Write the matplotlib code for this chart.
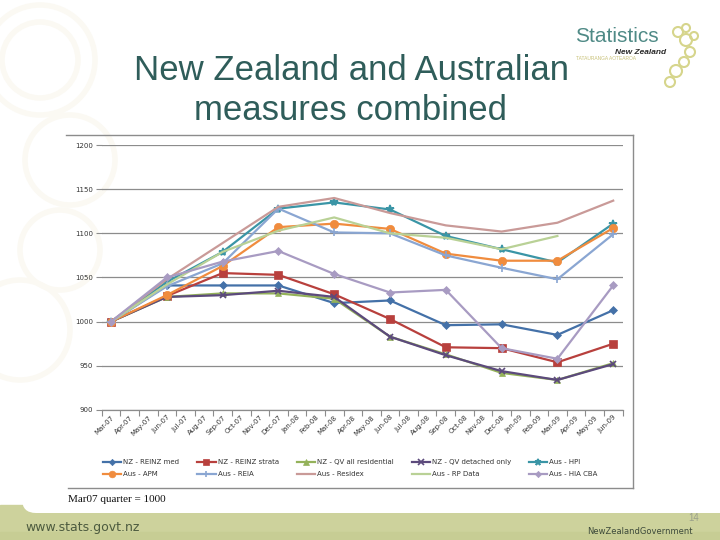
import matplotlib
matplotlib.use("Agg")
import matplotlib.pyplot as plt
from matplotlib.patches import FancyBboxPatch, Rectangle, Circle
import numpy as np

# ---------------- data ----------------
months = ["Mar-07", "Apr-07", "May-07", "Jun-07", "Jul-07", "Aug-07", "Sep-07", "Oct-07",
          "Nov-07", "Dec-07", "Jan-08", "Feb-08", "Mar-08", "Apr-08", "May-08", "Jun-08",
          "Jul-08", "Aug-08", "Sep-08", "Oct-08", "Nov-08", "Dec-08", "Jan-09", "Feb-09",
          "Mar-09", "Apr-09", "May-09", "Jun-09"]
quarters = ["Mar-07", "Jun-07", "Sep-07", "Dec-07", "Mar-08", "Jun-08", "Sep-08", "Dec-08",
            "Mar-09", "Jun-09"]

nz_reinz_med    = [1000, 1041, 1041, 1041, 1021, 1024, 996, 997, 985, 1013]
nz_reinz_strata = [1000, 1029, 1055, 1053, 1031, 1003, 971, 970, 954, 975]
nz_qv_all       = [1000, 1028, 1032, 1032, 1026, 983, 963, 942, 934, 953]
nz_qv_detached  = [1000, 1028, 1030, 1035, 1028, 983, 962, 944, 934, 952]
aus_hpi         = [1000, 1045, 1079, 1128, 1135, 1127, 1097, 1082, 1067, 1111]
aus_apm         = [1000, 1030, 1063, 1107, 1111, 1105, 1077, 1069, 1069, 1106]
aus_reia        = [1000, 1040, 1066, 1128, 1101, 1100, 1075, 1061, 1048, 1099]
aus_residex     = [1000, 1048, 1089, 1130, 1140, 1123, 1109, 1102, 1112, 1137]
aus_rpdata      = [1000, 1042, 1079, 1103, 1118, 1100, 1095, 1082, 1097, None]
aus_hia_cba     = [1000, 1050, 1068, 1080, 1054, 1033, 1036, 970, 958, 1041]

series_names = ["NZ - REINZ med", "NZ - REINZ strata", "NZ - QV all residential",
                "NZ - QV detached only", "Aus - HPI", "Aus - APM", "Aus - REIA",
                "Aus - Residex", "Aus - RP Data", "Aus - HIA CBA"]
series_values = [nz_reinz_med, nz_reinz_strata, nz_qv_all, nz_qv_detached, aus_hpi,
                 aus_apm, aus_reia, aus_residex, aus_rpdata, aus_hia_cba]
y_ticks = [900, 950, 1000, 1050, 1100, 1150, 1200]

# ---------------- styles ----------------
colors = ["#4471a8", "#b8403d", "#94b25a", "#5c4a7c", "#3a95a6",
          "#f08c3e", "#8aa6d2", "#c99a98", "#b9d196", "#a89bc2"]
markers = ["D", "s", "^", "x", "*", "o", "+", None, None, "D"]
msizes = [4, 6, 5, 5, 6, 6, 6, 0, 0, 4]

W, H = 720, 540
fig = plt.figure(figsize=(7.2, 5.4), dpi=100)
fig.patch.set_facecolor("white")

def fx(x):
    return x / W

def fy(y):
    return 1 - y / H

# background slide decorations
bg = fig.add_axes([0, 0, 1, 1], zorder=-10)
bg.set_xlim(0, W)
bg.set_ylim(H, 0)
bg.axis("off")
bg.add_patch(Rectangle((0, 505), W, 35, color="#cdd29c", zorder=0))
bg.add_patch(Rectangle((0, 532), W, 8, color="#c7cd94", zorder=0))
bg.add_patch(FancyBboxPatch((22, -30), 780, 543, boxstyle="round,pad=0,rounding_size=14",
                            facecolor="white", edgecolor="none", zorder=1))
for (cx, cy, r) in [(40, 60, 55), (40, 60, 38), (70, 160, 45), (60, 250, 40), (20, 330, 50)]:
    bg.add_patch(Circle((cx, cy), r, fill=False, edgecolor="#fbf9f3", lw=4, zorder=2))
# chart frame (top, right, bottom)
bg.plot([66, 633], [135, 135], color="#8c8c8c", lw=1.0, zorder=3)
bg.plot([633, 633], [135, 488], color="#8c8c8c", lw=1.0, zorder=3)
bg.plot([68, 633], [488, 488], color="#8c8c8c", lw=1.0, zorder=3)

# logo
for (cx, cy, r) in [(678, 32, 5), (686, 40, 6), (690, 52, 5), (684, 62, 5), (676, 71, 6),
                    (670, 82, 5), (686, 28, 4), (694, 36, 4)]:
    bg.add_patch(Circle((cx, cy), r, fill=False, edgecolor="#d6d58c", lw=1.5, zorder=3))
fig.text(fx(575), fy(36), "Statistics", fontsize=15, color="#4f8a86",
         family="Liberation Sans", va="center", ha="left")
fig.text(fx(666), fy(52), "New Zealand", fontsize=6, color="#2a2a2a", style="italic",
         weight="bold", family="Liberation Sans", va="center", ha="right")
fig.text(fx(576), fy(59), "TATAURANGA AOTEAROA", fontsize=3.5, color="#c9c27a",
         family="Liberation Sans", va="center", ha="left")

# title
fig.text(fx(351), fy(70), "New Zealand and Australian", fontsize=25, color="#2f5d5a",
         family="Liberation Sans", ha="center", va="center")
fig.text(fx(351), fy(110), "measures combined", fontsize=25, color="#2f5d5a",
         family="Liberation Sans", ha="center", va="center")

# footer
fig.text(fx(25), fy(527), "www.stats.govt.nz", fontsize=9, color="#4d5b3f",
         family="Liberation Sans Narrow", ha="left", va="center")
fig.text(fx(693), fy(531), "NewZealandGovernment", fontsize=6, color="#3d4a3a",
         family="Liberation Sans Narrow", ha="right", va="center")
fig.text(fx(699), fy(518), "14", fontsize=7, color="#9aa08a",
         family="Liberation Sans", ha="right", va="center")
fig.text(fx(68), fy(499), "Mar07 quarter = 1000", fontsize=8, color="#111111",
         family="Liberation Serif", ha="left", va="center")

# ---------------- main plot ----------------
x0, s = 111.0, 18.6
left_px = x0 - 0.5 * s
right_px = x0 + 27.5 * s
top_px, bot_px = 145.0, 410.0
ax = fig.add_axes([fx(left_px), fy(bot_px), (right_px - left_px) / W, (bot_px - top_px) / H])
ax.set_xlim(-0.5, 27.5)
ax.set_ylim(900, 1200)
ax.set_facecolor("none")
for sp in ["top", "right", "left"]:
    ax.spines[sp].set_visible(False)
ax.spines["bottom"].set_color("#8c8c8c")
ax.spines["bottom"].set_linewidth(0.9)
ax.set_yticks(y_ticks)
ax.set_yticklabels([str(v) for v in y_ticks], fontsize=5, color="#333333")
ax.tick_params(axis="y", length=4, color="#8c8c8c", width=0.8, pad=2)
ax.grid(axis="y", color="#8c8c8c", lw=0.9)
ax.set_axisbelow(True)
ax.set_xticks(range(len(months)))
ax.set_xticklabels(months, rotation=45, ha="right", rotation_mode="anchor",
                   fontsize=5, color="#333333")
ax.tick_params(axis="x", length=0, pad=3)
ax.set_xticks(np.arange(-0.5, 27.6, 1.0), minor=True)
ax.tick_params(axis="x", which="minor", length=4, color="#8c8c8c", width=0.8)

q_idx = [months.index(q) for q in quarters]
handles = []
for name, vals, c, m, ms in zip(series_names, series_values, colors, markers, msizes):
    xs = [q_idx[i] for i, v in enumerate(vals) if v is not None]
    ys = [v for v in vals if v is not None]
    mew = 1.2 if m in ("x", "+", "*") else 0.5
    ln, = ax.plot(xs, ys, color=c, lw=1.6, marker=m if m else "", markersize=ms,
                  markeredgecolor=c, markerfacecolor=c, markeredgewidth=mew,
                  label=name, zorder=3)
    handles.append(ln)

# legend laid out row-wise (5 per row)
order = [0, 5, 1, 6, 2, 7, 3, 8, 4, 9]
leg = fig.legend(handles=[handles[i] for i in order],
                 labels=[series_names[i] for i in order], ncol=5,
                 loc="upper left", bbox_to_anchor=(fx(97), fy(453)),
                 fontsize=5, frameon=False, handlelength=2.6, handletextpad=0.3,
                 columnspacing=2.6, labelspacing=0.9, markerscale=0.8)
for t in leg.get_texts():
    t.set_color("#333333")

fig.savefig("out.png", dpi=100)
